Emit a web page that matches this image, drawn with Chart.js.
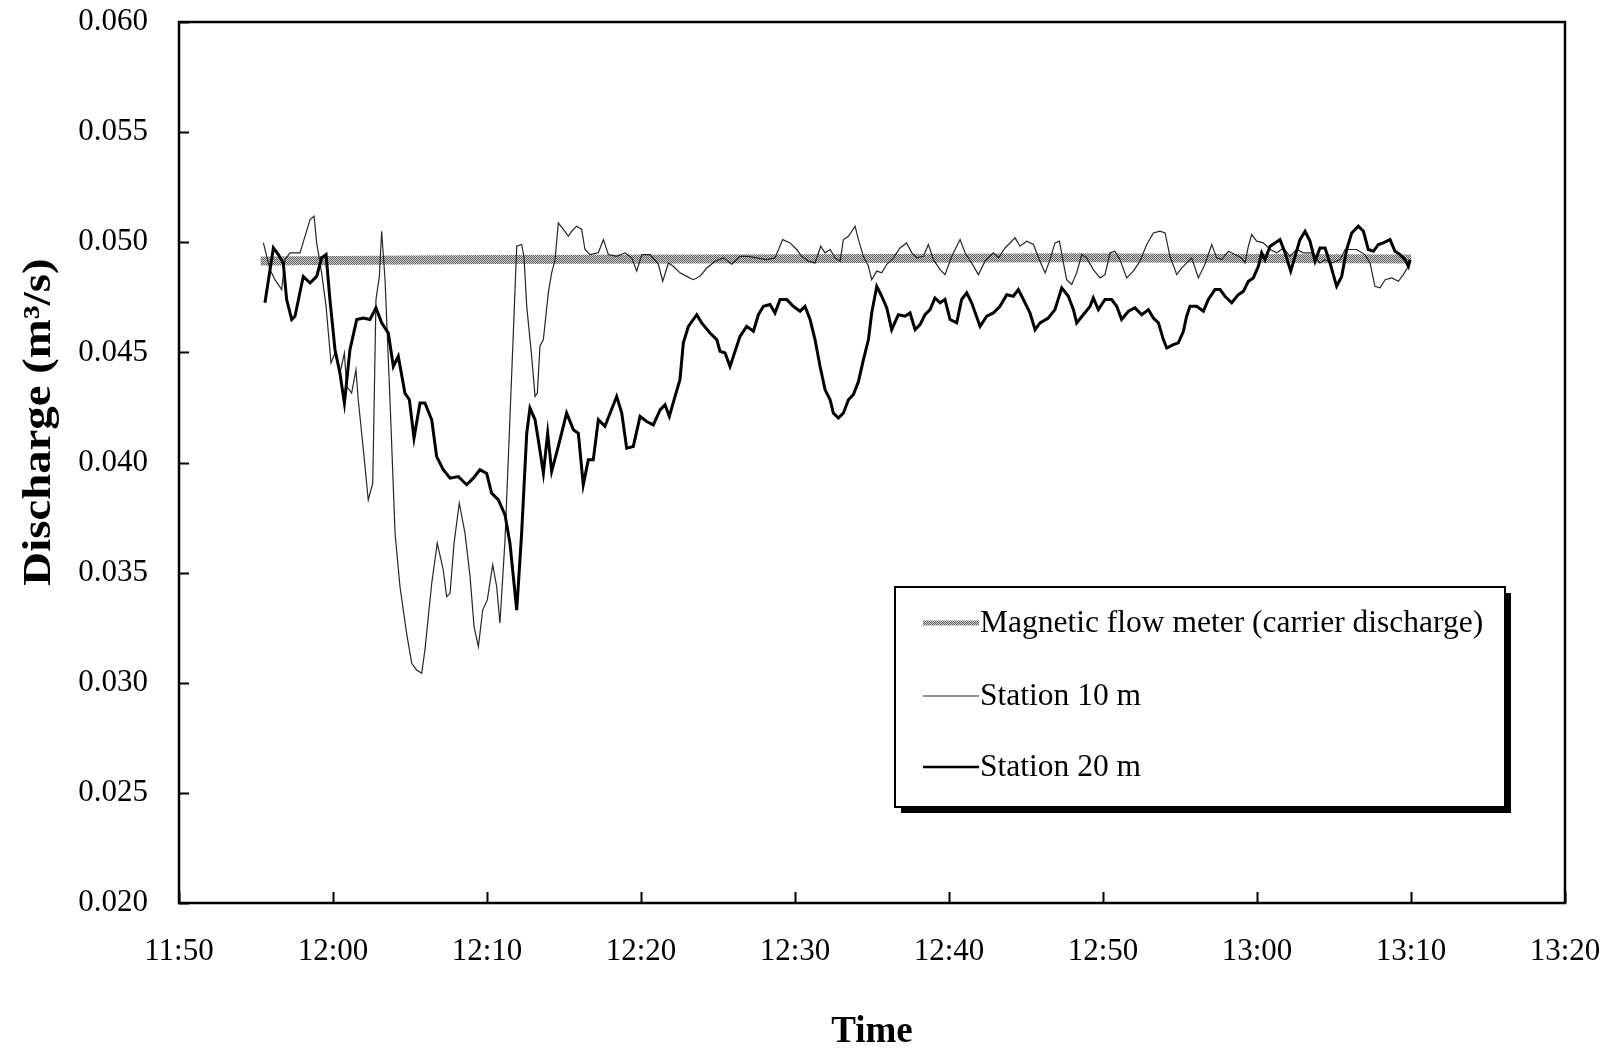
<!DOCTYPE html>
<html>
<head>
<meta charset="utf-8">
<script src="https://cdn.jsdelivr.net/npm/chart.js@4.4.1/dist/chart.umd.min.js"></script>
<style>
  html, body { margin: 0; padding: 0; background: #fff; }
  #wrap { width: 1608px; height: 1050px; }
</style>
</head>
<body>
<div id="wrap"><canvas id="chart" width="1608" height="1050"></canvas></div>
<script>
// x values are minutes after 11:50
var xTickLabels = ['11:50', '12:00', '12:10', '12:20', '12:30', '12:40', '12:50', '13:00', '13:10', '13:20'];

var timesMag = [5.3, 20, 40, 58, 70, 80];
var magnetic = [0.04915, 0.04922, 0.04925, 0.0493, 0.04926, 0.04924];

var times10 = [
  5.48, 5.91, 6.23, 6.67, 6.88, 7.21, 7.86, 8.18, 8.51, 8.77, 8.94, 9.26, 9.55, 9.7, 9.87, 10.13,
  10.45, 10.74, 10.89, 11.21, 11.49, 11.64, 11.97, 12.29, 12.58, 12.79, 13.01, 13.16, 13.38, 13.7,
  14.03, 14.35, 14.78, 15.11, 15.43, 15.76, 15.97, 16.41, 16.77, 17.16, 17.38, 17.6, 17.86, 18.2,
  18.57, 18.9, 19.16, 19.44, 19.72, 20.02, 20.37, 20.63, 20.84, 21.17, 21.45, 21.71, 21.93, 22.25,
  22.4, 22.58, 22.9, 23.12, 23.27, 23.44, 23.66, 23.98, 24.2, 24.42, 24.63, 24.96, 25.28, 25.5,
  25.82, 26.15, 26.36, 26.69, 27.23, 27.56, 27.88, 28.42, 28.96, 29.4, 29.72, 30.05, 30.59, 31.13,
  31.41, 31.78, 32.1, 32.53, 32.97, 33.4, 33.83, 34.27, 34.81, 35.35, 35.89, 36.43, 36.97, 37.51,
  38.16, 38.7, 39.2, 39.68, 40.11, 40.44, 40.87, 41.3, 41.67, 41.95, 42.28, 42.6, 42.93, 43.14,
  43.47, 43.9, 44.12, 44.44, 44.77, 44.98, 45.31, 45.63, 45.96, 46.39, 46.82, 47.25, 47.58, 47.9,
  48.34, 48.66, 48.99, 49.42, 49.74, 50.18, 50.72, 51.04, 51.47, 51.91, 52.34, 52.88, 53.21, 53.64,
  54.29, 54.61, 55.05, 55.48, 55.91, 56.24, 56.56, 56.88, 57.17, 57.43, 57.64, 57.97, 58.29, 58.62,
  58.94, 59.37, 59.81, 60.13, 60.46, 60.78, 61.1, 61.54, 61.97, 62.4, 62.84, 63.27, 63.7, 64.03,
  64.35, 64.79, 65.11, 65.43, 65.76, 66.19, 66.62, 67.06, 67.38, 67.71, 68.14, 68.57, 69.0, 69.22,
  69.44, 69.66, 69.98, 70.41, 70.85, 71.28, 71.71, 72.14, 72.58, 73.01, 73.55, 74.09, 74.42, 74.85,
  75.39, 75.72, 76.04, 76.47, 77.01, 77.34, 77.66, 77.99, 78.32, 78.75, 79.18, 79.5, 79.83
];
var station10 = [
  0.04997, 0.04876, 0.0483, 0.04785, 0.04921, 0.04952, 0.04952, 0.05027, 0.05103, 0.05118, 0.04997, 0.04861, 0.04709, 0.04588, 0.04452, 0.04497,
  0.04406, 0.04497, 0.04345, 0.04315, 0.04421, 0.04285, 0.04058, 0.0383, 0.03906, 0.0474, 0.04845, 0.0505, 0.0483, 0.04285,
  0.03679, 0.03436, 0.03224, 0.03088, 0.03058, 0.03043, 0.03149, 0.03452, 0.03634, 0.03512, 0.03391, 0.03406, 0.03634, 0.03815,
  0.03679, 0.03482, 0.03255, 0.03164, 0.0333, 0.03376, 0.03535, 0.03436, 0.0327, 0.03649, 0.04133, 0.04588, 0.04982, 0.0499,
  0.04936, 0.04709, 0.04482, 0.043, 0.04315, 0.04528, 0.04558, 0.0477, 0.04861, 0.04921, 0.05088, 0.05058, 0.05027, 0.0505,
  0.05073, 0.05058, 0.04967, 0.04944, 0.04952, 0.05012, 0.04944, 0.04936, 0.04952, 0.04929, 0.04869, 0.04944, 0.04944, 0.049,
  0.04823, 0.04906, 0.04891, 0.04861, 0.04845, 0.0483, 0.04845, 0.04883, 0.04914, 0.04929, 0.049, 0.04936, 0.04936, 0.04929,
  0.04921, 0.04929, 0.05012, 0.04997, 0.04967, 0.04936, 0.04914, 0.04906, 0.04982, 0.04952, 0.04967, 0.04929, 0.04914, 0.05012,
  0.05027, 0.05073, 0.05012, 0.04936, 0.04891, 0.0483, 0.04869, 0.04861, 0.049, 0.04929, 0.04974, 0.04997, 0.04952, 0.04929,
  0.04936, 0.0499, 0.04921, 0.04876, 0.04853, 0.04936, 0.05012, 0.04952, 0.04906, 0.04853, 0.04914, 0.04952, 0.04929, 0.04974,
  0.0502, 0.04982, 0.05005, 0.0499, 0.04914, 0.04861, 0.04921, 0.04997, 0.05005, 0.04906, 0.0483, 0.04808, 0.04861, 0.04944,
  0.04929, 0.04876, 0.04838, 0.04853, 0.04952, 0.04959, 0.04921, 0.04838, 0.04869, 0.04914, 0.0499, 0.05042, 0.0505, 0.05042,
  0.04936, 0.04853, 0.04883, 0.04906, 0.04929, 0.04838, 0.049, 0.0499, 0.04929, 0.04921, 0.04959, 0.04944, 0.04929, 0.04906,
  0.04982, 0.05035, 0.05005, 0.04997, 0.04967, 0.04952, 0.04974, 0.04936, 0.04967, 0.04952, 0.04952, 0.04906, 0.04921, 0.04906,
  0.04921, 0.04967, 0.04967, 0.04967, 0.04944, 0.04906, 0.048, 0.04793, 0.0483, 0.04838, 0.04823, 0.04853, 0.04891
];

var times20 = [
  5.58, 6.13, 6.45, 6.77, 6.99, 7.32, 7.53, 8.07, 8.51, 8.94, 9.26, 9.55, 9.8, 10.13, 10.45, 10.74,
  11.1, 11.54, 11.97, 12.4, 12.79, 13.16, 13.59, 13.92, 14.24, 14.67, 14.96, 15.26, 15.65, 15.97,
  16.41, 16.73, 17.16, 17.6, 18.14, 18.68, 19.11, 19.54, 19.98, 20.3, 20.74, 21.17, 21.49, 21.93,
  22.25, 22.58, 22.79, 23.12, 23.33, 23.66, 23.94, 24.2, 24.63, 25.17, 25.61, 25.93, 26.25, 26.58,
  26.9, 27.23, 27.66, 27.99, 28.42, 28.75, 29.07, 29.5, 29.94, 30.37, 30.8, 31.24, 31.56, 31.84,
  32.21, 32.53, 32.75, 33.08, 33.62, 33.94, 34.48, 34.92, 35.13, 35.46, 35.78, 36.11, 36.43, 36.86,
  37.3, 37.62, 37.95, 38.38, 38.7, 39.03, 39.46, 39.89, 40.33, 40.65, 40.98, 41.3, 41.63, 41.95,
  42.28, 42.49, 42.82, 43.14, 43.47, 43.79, 44.12, 44.44, 44.77, 44.98, 45.31, 45.63, 45.96, 46.28,
  46.71, 47.15, 47.47, 47.8, 48.12, 48.44, 48.77, 49.09, 49.42, 49.74, 50.07, 50.5, 50.82, 51.15,
  51.47, 52.02, 52.45, 52.88, 53.31, 53.75, 54.18, 54.5, 54.83, 55.26, 55.59, 55.91, 56.45, 56.88,
  57.32, 57.75, 58.08, 58.29, 58.72, 59.16, 59.37, 59.7, 60.13, 60.56, 60.89, 61.21, 61.65, 62.08,
  62.51, 62.95, 63.27, 63.6, 63.92, 64.14, 64.57, 64.89, 65.22, 65.43, 65.65, 66.08, 66.52, 66.84,
  67.27, 67.6, 67.92, 68.36, 68.79, 69.11, 69.44, 69.76, 70.09, 70.3, 70.52, 70.85, 71.17, 71.49,
  71.82, 72.19, 72.47, 72.79, 73.12, 73.44, 73.77, 74.09, 74.42, 74.74, 75.17, 75.5, 75.82, 76.15,
  76.58, 76.91, 77.23, 77.56, 77.88, 78.2, 78.64, 78.96, 79.29, 79.61, 79.83, 79.94
];
var station20 = [
  0.04725, 0.04975, 0.04944, 0.04906, 0.0474, 0.04649, 0.04664, 0.04845, 0.04815, 0.04845, 0.04929, 0.04944, 0.0474, 0.04512, 0.04406, 0.0427,
  0.04512, 0.04649, 0.04656, 0.04649, 0.04702, 0.04634, 0.04588, 0.04436, 0.04482, 0.04315, 0.04285, 0.04111, 0.0427, 0.0427,
  0.04194, 0.04027, 0.03967, 0.03929, 0.03936, 0.03899, 0.03929, 0.03967, 0.0395, 0.03861, 0.0383, 0.03762, 0.03634, 0.0333,
  0.03679, 0.04133, 0.04247, 0.04194, 0.04103, 0.03952, 0.04133, 0.0396, 0.04073, 0.04224, 0.04149, 0.04133, 0.03899, 0.04012,
  0.04012, 0.04194, 0.04164, 0.04224, 0.043, 0.04224, 0.04065, 0.04073, 0.04209, 0.04186, 0.04171, 0.04239, 0.04262, 0.04209,
  0.043, 0.04376, 0.04543, 0.04618, 0.04671, 0.04634, 0.04588, 0.04558, 0.04505, 0.04497, 0.04436, 0.04505, 0.04573, 0.04618,
  0.04596, 0.04671, 0.04709, 0.04717, 0.04679, 0.0474, 0.0474, 0.04709, 0.04687, 0.04709, 0.04649, 0.04558, 0.04436, 0.04331,
  0.04285, 0.04224, 0.04202, 0.04224, 0.04285, 0.04308, 0.04368, 0.04466, 0.04558, 0.04679, 0.048, 0.04755, 0.04702, 0.04603,
  0.04671, 0.04664, 0.04679, 0.04603, 0.04626, 0.04671, 0.04694, 0.04747, 0.04725, 0.0474, 0.04649, 0.04634, 0.0474, 0.0477,
  0.04725, 0.04618, 0.04664, 0.04679, 0.04709, 0.04762, 0.04755, 0.04785, 0.0474, 0.04679, 0.04603, 0.04634, 0.04656, 0.04694,
  0.04793, 0.04755, 0.04694, 0.04634, 0.04671, 0.04709, 0.04747, 0.04694, 0.0474, 0.0474, 0.04709, 0.04649, 0.04687, 0.04702,
  0.04671, 0.04694, 0.04656, 0.04634, 0.04558, 0.0452, 0.04535, 0.04543, 0.04596, 0.04664, 0.04709, 0.04709, 0.04687, 0.0474,
  0.04785, 0.04785, 0.04755, 0.04725, 0.04762, 0.04777, 0.04823, 0.04838, 0.04891, 0.04952, 0.04921, 0.04982, 0.04997, 0.05012,
  0.04952, 0.04869, 0.04936, 0.05012, 0.0505, 0.05005, 0.04914, 0.04974, 0.04974, 0.04906, 0.048, 0.04845, 0.04967, 0.05042,
  0.05073, 0.0505, 0.04967, 0.04959, 0.0499, 0.04997, 0.05012, 0.04959, 0.04944, 0.04921, 0.04891, 0.04921
];

function pairs(xs, ys) {
  var out = [];
  for (var i = 0; i < xs.length; i++) out.push({ x: xs[i], y: ys[i] });
  return out;
}

// grey checker used for the magnetic flow meter band
function makeBandPattern(ctx) {
  var c = document.createElement('canvas');
  c.width = 2; c.height = 2;
  var g = c.getContext('2d');
  g.fillStyle = '#d2d2d2';
  g.fillRect(0, 0, 2, 2);
  g.fillStyle = '#5e5e5e';
  g.fillRect(0, 0, 1, 1);
  g.fillRect(1, 1, 1, 1);
  return ctx.createPattern(c, 'repeat');
}

var SERIF = '"Liberation Serif", "Times New Roman", serif';
var canvas = document.getElementById('chart');
var ctx = canvas.getContext('2d');
var bandPattern = makeBandPattern(ctx);

var plotBox = { left: 179, top: 22, right: 1565, bottom: 903 };
var legendBox = { left: 895, top: 587, width: 610, height: 220, shadow: 6 };

var framePlugin = {
  id: 'frame',
  afterDatasetsDraw: function (chart) {
    var a = chart.chartArea;
    var c = chart.ctx;
    var xs = chart.scales.x, ys = chart.scales.y;
    c.save();
    c.strokeStyle = '#000';
    c.lineWidth = 2.5;
    c.strokeRect(a.left, a.top, a.right - a.left, a.bottom - a.top);
    // inward tick marks
    c.lineWidth = 2;
    c.beginPath();
    ys.ticks.forEach(function (t) {
      var py = Math.round(ys.getPixelForValue(t.value)) + 0.5;
      c.moveTo(a.left, py);
      c.lineTo(a.left + 10, py);
    });
    xs.ticks.forEach(function (t) {
      var px = Math.round(xs.getPixelForValue(t.value)) + 0.5;
      c.moveTo(px, a.bottom);
      c.lineTo(px, a.bottom - 11);
    });
    c.stroke();
    c.restore();
  },
  afterDraw: function (chart) {
    var c = chart.ctx;
    var b = legendBox;
    c.save();
    // shadow + box
    c.fillStyle = '#000';
    c.fillRect(b.left + b.shadow, b.top + b.shadow, b.width, b.height);
    c.fillStyle = '#fff';
    c.fillRect(b.left, b.top, b.width, b.height);
    c.strokeStyle = '#000';
    c.lineWidth = 2;
    c.strokeRect(b.left, b.top, b.width, b.height);

    var rows = [623, 696, 767];
    var widths = [5, 1.2, 2.4];
    c.font = '31.5px ' + SERIF;
    c.textBaseline = 'middle';
    c.textAlign = 'left';
    chart.data.datasets.forEach(function (ds, i) {
      var y = rows[i];
      c.beginPath();
      c.strokeStyle = ds.borderColor;
      c.lineWidth = widths[i];
      c.moveTo(923, y);
      c.lineTo(979, y);
      c.stroke();
      c.fillStyle = '#000';
      c.fillText(ds.label, 980, y + 1);
    });

    // axis titles
    c.font = 'bold 37px ' + SERIF;
    c.textAlign = 'center';
    c.fillText('Time', 872, 1032);
    c.translate(40, 422);
    c.rotate(-Math.PI / 2);
    c.scale(1.17, 1);
    c.font = 'bold 40px ' + SERIF;
    c.fillText('Discharge (m\u00B3/s)', 0, 0);
    c.restore();
  }
};

var chart = new Chart(ctx, {
  type: 'line',
  data: {
    datasets: [
      {
        label: 'Magnetic flow meter (carrier discharge)',
        data: pairs(timesMag, magnetic),
        borderColor: bandPattern,
        borderWidth: 9,
        pointRadius: 0,
        tension: 0,
        order: 2
      },
      {
        label: 'Station 10 m',
        data: pairs(times10, station10),
        borderColor: '#262626',
        borderWidth: 1.2,
        pointRadius: 0,
        tension: 0,
        order: 1
      },
      {
        label: 'Station 20 m',
        data: pairs(times20, station20),
        borderColor: '#000',
        borderWidth: 3,
        pointRadius: 0,
        tension: 0,
        order: 0
      }
    ]
  },
  options: {
    responsive: false,
    animation: false,
    layout: {
      padding: { left: 0, right: 1608 - plotBox.right, top: plotBox.top, bottom: 0 }
    },
    plugins: {
      legend: { display: false },
      tooltip: { enabled: false }
    },
    scales: {
      x: {
        type: 'linear',
        min: 0,
        max: 90,
        grid: { display: false, drawTicks: false },
        border: { display: false },
        ticks: {
          stepSize: 10,
          color: '#000',
          padding: 30,
          maxRotation: 0,
          font: { family: SERIF, size: 31 },
          callback: function (v) { return xTickLabels[Math.round(v / 10)]; }
        },
        afterFit: function (scale) {
          scale.height = 1050 - plotBox.bottom;
          scale.paddingLeft = 0;
          scale.paddingRight = 0;
        }
      },
      y: {
        min: 0.02,
        max: 0.06,
        grid: { display: false, drawTicks: false },
        border: { display: false },
        ticks: {
          stepSize: 0.005,
          color: '#000',
          padding: 31,
          font: { family: SERIF, size: 31 },
          callback: function (v) { return v.toFixed(3); }
        },
        afterFit: function (scale) {
          scale.width = plotBox.left;
          scale.paddingTop = 0;
          scale.paddingBottom = 0;
        }
      }
    }
  },
  plugins: [framePlugin]
});
</script>
</body>
</html>
